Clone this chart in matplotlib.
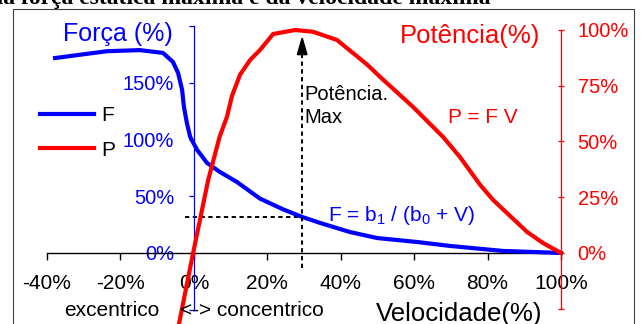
import matplotlib
matplotlib.use('Agg')
import matplotlib.pyplot as plt
from matplotlib.patches import Rectangle

plt.rcParams['font.family'] = ['Liberation Sans', 'DejaVu Sans']
plt.rcParams['mathtext.fontset'] = 'custom'
plt.rcParams['mathtext.rm'] = 'Liberation Sans'
plt.rcParams['mathtext.it'] = 'Liberation Sans:italic'

# ---------------- data ----------------
force_v = [-37.8, -23.7, -14.7, -8.4, -5.7, -4.3, -3.2, -2.7, -1.9, -1.0, 0.9, 3.6,
           7.1, 11.8, 18.0, 24.3, 29.5, 34.4, 42.5, 49.9, 60.8, 69.8, 84.2, 92.4, 100.0]
force_pct = [172, 178, 179, 176.5, 168.6, 158.9, 143.9, 128.9, 114.7, 102.4, 90.9, 79.4,
             71.5, 62.5, 48.0, 38.5, 31.8, 26.5, 18.5, 13.2, 9.7, 6.2, 1.8, 0.9, 0.0]

power_v = [-4.2, -0.2, 3.9, 7.0, 9.0, 10.4, 12.6, 15.3, 18.0, 21.6, 27.6, 32.5, 39.0,
           47.2, 50.7, 59.7, 67.9, 72.5, 78.0, 81.5, 85.3, 90.8, 95.1, 100.0]
power_pct = [-33, 0, 32.7, 52, 61, 70.5, 80, 86.5, 91, 98.2, 100, 99.2, 95.5,
             84.5, 79, 65.5, 52, 43, 30.5, 23.8, 17.9, 9.4, 4.5, 0]

x_ticks = [-40, -20, 0, 20, 40, 60, 80, 100]
x_tick_labels = ['-40%', '-20%', '0%', '20%', '40%', '60%', '80%', '100%']
force_ticks = [-50, 0, 50, 100, 150, 200]
force_tick_labels = ['', '0%', '50%', '100%', '150%', '']
power_ticks = [-25, 0, 25, 50, 75, 100]
power_tick_labels = ['', '0%', '25%', '50%', '75%', '100%']

v_at_pmax = 29.5      # velocity at max power
f_at_pmax = 31.8      # force at max power
p_max = 100

BLUE = '#0000FF'
RED = '#FF0000'

W, H = 641, 324
fig = plt.figure(figsize=(W / 100, H / 100), dpi=100)

def fx(px):
    return px / W

def fy(py):
    return 1 - py / H

ax = fig.add_axes([0, 0, 1, 1])
ax.patch.set_alpha(0)
ax.set_xlim(-52.80, 121.79)
ax.set_ylim(-62.65, 223.2)

ax2 = ax.twinx()
ax2.set_position([0, 0, 1, 1])
ax2.patch.set_alpha(0)
ax2.set_ylim(-31.84, 113.45)

for s in ['top', 'right']:
    ax.spines[s].set_visible(False)
ax.spines['left'].set_position(('data', 0))
ax.spines['left'].set_bounds(-50, 200)
ax.spines['left'].set_color(BLUE)
ax.spines['left'].set_linewidth(0.9)
ax.spines['bottom'].set_position(('data', 0))
ax.spines['bottom'].set_bounds(-40, 100)
ax.spines['bottom'].set_color('black')
ax.spines['bottom'].set_linewidth(1.0)

ax.set_xticks(x_ticks)
ax.set_xticklabels(x_tick_labels)
ax.tick_params(axis='x', direction='out', length=5, width=1, pad=10, labelsize=15, colors='black')
ax.set_yticks(force_ticks)
ax.set_yticklabels(force_tick_labels)
ax.tick_params(axis='y', direction='out', length=3.6, width=0.9, pad=10.5, labelsize=14.5,
               colors=BLUE, labelcolor=BLUE)

for s in ['top', 'left', 'bottom']:
    ax2.spines[s].set_visible(False)
ax2.spines['right'].set_position(('data', 100))
ax2.spines['right'].set_bounds(-25, 100)
ax2.spines['right'].set_color(RED)
ax2.spines['right'].set_linewidth(0.9)
ax2.set_yticks(power_ticks)
ax2.set_yticklabels(power_tick_labels)
ax2.tick_params(axis='y', direction='inout', length=4, width=0.9, pad=10, labelsize=14.5,
                colors=RED, labelcolor=RED)

# curves
ax.plot(force_v, force_pct, color=BLUE, lw=3, solid_joinstyle='round', label='F', zorder=3)
ax2.plot(power_v, power_pct, color=RED, lw=3, solid_joinstyle='round', label='P', zorder=3)

# dashed guides
ax.plot([-2.4, v_at_pmax], [f_at_pmax, f_at_pmax], color='black', lw=1.4,
        linestyle=(0, (2.2, 1.8)), zorder=2)
ax2.plot([v_at_pmax, v_at_pmax], [-6.7, p_max * 0.91], color='black', lw=1.4,
         linestyle=(0, (2.2, 1.8)), zorder=2)
ax2.annotate('', xy=(v_at_pmax, p_max * 0.975), xytext=(v_at_pmax, p_max * 0.905),
             arrowprops=dict(arrowstyle='-|>,head_length=0.55,head_width=0.16',
                             mutation_scale=20, color='black', lw=1.4,
                             shrinkA=0, shrinkB=0))

# legend
h1, l1 = ax.get_legend_handles_labels()
h2, l2 = ax2.get_legend_handles_labels()
leg = fig.legend(h1 + h2, l1 + l2, loc='upper left', bbox_to_anchor=(fx(40), fy(106)),
                 bbox_transform=fig.transFigure, frameon=False, fontsize=15,
                 handlelength=2.6, handletextpad=0.35, labelspacing=0.75,
                 borderpad=0, borderaxespad=0)
for t in leg.get_texts():
    t.set_color('black')

# texts
fig.text(fx(63), fy(41), 'Força (%)', color=BLUE, fontsize=18, va='baseline', ha='left')
fig.text(fx(400), fy(43), 'Potência(%)', color=RED, fontsize=18.5, va='baseline', ha='left')
fig.text(fx(304), fy(100), 'Potência.', color='black', fontsize=14.5, va='baseline', ha='left')
fig.text(fx(304), fy(123), 'Max', color='black', fontsize=14.5, va='baseline', ha='left')
fig.text(fx(448), fy(123), 'P = F V', color=RED, fontsize=15, va='baseline', ha='left')
fig.text(fx(328), fy(221), 'F = b$_1$ / (b$_0$ + V)', color=BLUE, fontsize=15,
         va='baseline', ha='left')
fig.text(fx(64), fy(316), 'excentrico', color='black', fontsize=15, va='baseline', ha='left')
fig.text(fx(180), fy(316), '<-> concentrico', color='black', fontsize=15, va='baseline', ha='left')
fig.text(fx(376), fy(321), 'Velocidade(%)', color='black', fontsize=18.5, va='baseline', ha='left')

# clipped title at top
fig.text(fx(-10), fy(4), 'da força estática máxima e da velocidade máxima', color='black',
         fontsize=17, family='Liberation Serif', weight='bold', va='baseline', ha='left')

# outer frame
fig.patches.append(Rectangle((fx(13), -0.1), fx(634) - fx(13), fy(9) + 0.1, fill=False,
                             edgecolor='#404040', lw=0.8, transform=fig.transFigure, figure=fig))

fig.savefig('out.png', dpi=100)
